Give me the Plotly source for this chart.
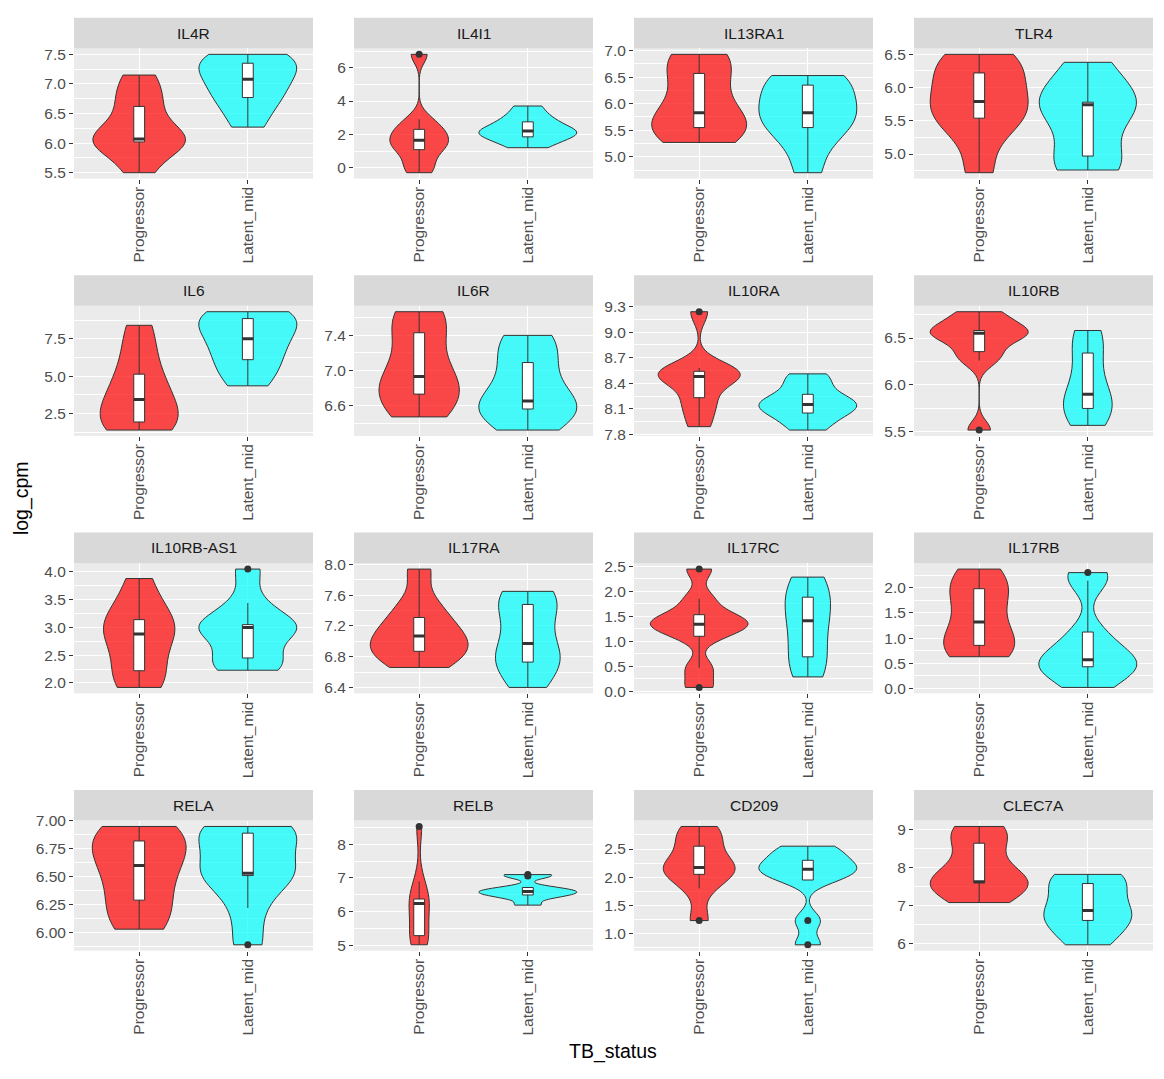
import numpy as np
import plotly.graph_objects as go

# ---------------- data ----------------
groups = ["Progressor", "Latent_mid"]
genes = ["IL4R", "IL4I1", "IL13RA1", "TLR4",
         "IL6", "IL6R", "IL10RA", "IL10RB",
         "IL10RB-AS1", "IL17RA", "IL17RC", "IL17RB",
         "RELA", "RELB", "CD209", "CLEC7A"]

il4r_progressor = [5.50, 5.92, 6.02, 6.04, 6.07, 6.30, 6.62, 6.85, 7.15]
il4r_latent = [6.27, 6.60, 6.77, 6.95, 7.08, 7.25, 7.35, 7.45, 7.50]
il4i1_progressor = [-0.30, 0.30, 1.08, 1.30, 1.65, 2.05, 2.30, 2.90, 6.80]
il4i1_latent = [1.20, 1.65, 1.85, 2.12, 2.20, 2.30, 2.75, 3.05, 3.70]
il13ra1_progressor = [5.27, 5.45, 5.55, 5.65, 5.83, 6.20, 6.57, 6.85, 6.93]
il13ra1_latent = [4.70, 5.30, 5.55, 5.75, 5.83, 6.00, 6.35, 6.45, 6.53]
tlr4_progressor = [4.72, 5.30, 5.54, 5.65, 5.79, 6.00, 6.22, 6.40, 6.50]
tlr4_latent = [4.76, 4.85, 4.97, 5.50, 5.74, 5.76, 5.78, 6.10, 6.38]
il6_progressor = [1.39, 1.70, 1.93, 2.50, 3.44, 4.30, 5.13, 6.80, 8.40]
il6_latent = [4.35, 5.40, 6.10, 7.00, 7.50, 8.30, 8.85, 9.10, 9.31]
il6r_progressor = [6.47, 6.60, 6.73, 6.80, 6.93, 7.10, 7.43, 7.60, 7.67]
il6r_latent = [6.32, 6.50, 6.56, 6.60, 6.65, 6.90, 7.09, 7.30, 7.40]
il10ra_progressor = [7.89, 8.10, 8.23, 8.45, 8.48, 8.50, 8.54, 8.58, 9.24]
il10ra_latent = [7.85, 7.98, 8.05, 8.12, 8.15, 8.20, 8.27, 8.40, 8.51]
il10rb_progressor = [5.52, 6.26, 6.355, 6.50, 6.55, 6.57, 6.58, 6.70, 6.78]
il10rb_latent = [5.57, 5.70, 5.75, 5.82, 5.90, 6.10, 6.34, 6.50, 6.58]
il10rb_as1_progressor = [1.92, 2.10, 2.22, 2.75, 2.88, 3.00, 3.14, 3.40, 3.88]
il10rb_as1_latent = [2.23, 2.35, 2.45, 2.90, 3.00, 3.03, 3.05, 3.44, 4.05]
il17ra_progressor = [6.66, 6.80, 6.87, 6.95, 7.07, 7.15, 7.31, 7.50, 7.94]
il17ra_latent = [6.40, 6.65, 6.73, 6.85, 6.97, 7.30, 7.48, 7.60, 7.65]
il17rc_progressor = [0.08, 0.47, 1.10, 1.28, 1.34, 1.40, 1.53, 1.85, 2.44]
il17rc_latent = [0.29, 0.50, 0.69, 1.10, 1.41, 1.60, 1.88, 2.10, 2.28]
il17rb_progressor = [0.63, 0.75, 0.855, 1.00, 1.32, 1.70, 1.98, 2.10, 2.37]
il17rb_latent = [0.02, 0.30, 0.43, 0.50, 0.57, 0.80, 1.12, 2.14, 2.30]
rela_progressor = [6.03, 6.15, 6.29, 6.48, 6.60, 6.72, 6.82, 6.90, 6.95]
rela_latent = [5.89, 6.22, 6.51, 6.52, 6.53, 6.75, 6.89, 6.93, 6.95]
relb_progressor = [5.03, 5.15, 5.30, 5.70, 6.25, 6.30, 6.38, 6.90, 8.52]
relb_latent = [6.20, 6.42, 6.50, 6.56, 6.60, 6.65, 6.72, 7.06, 7.10]
cd209_progressor = [1.23, 1.80, 2.05, 2.12, 2.17, 2.30, 2.55, 2.75, 2.90]
cd209_latent = [0.80, 1.23, 1.95, 2.05, 2.14, 2.20, 2.30, 2.45, 2.55]
clec7a_progressor = [7.08, 7.40, 7.60, 7.62, 7.63, 8.00, 8.64, 8.90, 9.08]
clec7a_latent = [5.97, 6.30, 6.61, 6.75, 6.87, 7.20, 7.58, 7.75, 7.82]

yticks_il4r = [5.5, 6.0, 6.5, 7.0, 7.5]
ylabels_il4r = ["5.5", "6.0", "6.5", "7.0", "7.5"]
yticks_il4i1 = [0, 2, 4, 6]
ylabels_il4i1 = ["0", "2", "4", "6"]
yticks_il13ra1 = [5.0, 5.5, 6.0, 6.5, 7.0]
ylabels_il13ra1 = ["5.0", "5.5", "6.0", "6.5", "7.0"]
yticks_tlr4 = [5.0, 5.5, 6.0, 6.5]
ylabels_tlr4 = ["5.0", "5.5", "6.0", "6.5"]
yticks_il6 = [2.5, 5.0, 7.5]
ylabels_il6 = ["2.5", "5.0", "7.5"]
yticks_il6r = [6.6, 7.0, 7.4]
ylabels_il6r = ["6.6", "7.0", "7.4"]
yticks_il10ra = [7.8, 8.1, 8.4, 8.7, 9.0, 9.3]
ylabels_il10ra = ["7.8", "8.1", "8.4", "8.7", "9.0", "9.3"]
yticks_il10rb = [5.5, 6.0, 6.5]
ylabels_il10rb = ["5.5", "6.0", "6.5"]
yticks_il10rb_as1 = [2.0, 2.5, 3.0, 3.5, 4.0]
ylabels_il10rb_as1 = ["2.0", "2.5", "3.0", "3.5", "4.0"]
yticks_il17ra = [6.4, 6.8, 7.2, 7.6, 8.0]
ylabels_il17ra = ["6.4", "6.8", "7.2", "7.6", "8.0"]
yticks_il17rc = [0.0, 0.5, 1.0, 1.5, 2.0, 2.5]
ylabels_il17rc = ["0.0", "0.5", "1.0", "1.5", "2.0", "2.5"]
yticks_il17rb = [0.0, 0.5, 1.0, 1.5, 2.0]
ylabels_il17rb = ["0.0", "0.5", "1.0", "1.5", "2.0"]
yticks_rela = [6.00, 6.25, 6.50, 6.75, 7.00]
ylabels_rela = ["6.00", "6.25", "6.50", "6.75", "7.00"]
yticks_relb = [5, 6, 7, 8]
ylabels_relb = ["5", "6", "7", "8"]
yticks_cd209 = [1.0, 1.5, 2.0, 2.5]
ylabels_cd209 = ["1.0", "1.5", "2.0", "2.5"]
yticks_clec7a = [6, 7, 8, 9]
ylabels_clec7a = ["6", "7", "8", "9"]

panels = [
    (il4r_progressor, il4r_latent, yticks_il4r, ylabels_il4r),
    (il4i1_progressor, il4i1_latent, yticks_il4i1, ylabels_il4i1),
    (il13ra1_progressor, il13ra1_latent, yticks_il13ra1, ylabels_il13ra1),
    (tlr4_progressor, tlr4_latent, yticks_tlr4, ylabels_tlr4),
    (il6_progressor, il6_latent, yticks_il6, ylabels_il6),
    (il6r_progressor, il6r_latent, yticks_il6r, ylabels_il6r),
    (il10ra_progressor, il10ra_latent, yticks_il10ra, ylabels_il10ra),
    (il10rb_progressor, il10rb_latent, yticks_il10rb, ylabels_il10rb),
    (il10rb_as1_progressor, il10rb_as1_latent, yticks_il10rb_as1, ylabels_il10rb_as1),
    (il17ra_progressor, il17ra_latent, yticks_il17ra, ylabels_il17ra),
    (il17rc_progressor, il17rc_latent, yticks_il17rc, ylabels_il17rc),
    (il17rb_progressor, il17rb_latent, yticks_il17rb, ylabels_il17rb),
    (rela_progressor, rela_latent, yticks_rela, ylabels_rela),
    (relb_progressor, relb_latent, yticks_relb, ylabels_relb),
    (cd209_progressor, cd209_latent, yticks_cd209, ylabels_cd209),
    (clec7a_progressor, clec7a_latent, yticks_clec7a, ylabels_clec7a),
]

# ---------------- styling / layout ----------------
W, H = 1164, 1079
FONT = "Liberation Sans, Arial, sans-serif"
TICK_SIZE = 15.5
TITLE_SIZE = 19.5
fills = ["rgba(255,0,0,0.7)", "rgba(0,255,255,0.7)"]
DARK = "#333333"
col_x0 = [74, 354, 634, 914]
panel_w = 239
row_top = [41, 302, 563, 824]
panel_h = 132
strip_h = 31
VIOLIN_W = 0.9
BOX_W = 0.1


def px_x(px):
    return px / W


def px_y(py):
    return 1 - py / H


def nrd0(v):
    """R's bw.nrd0 (the bandwidth ggplot2 uses)."""
    v = np.asarray(v, dtype=float)
    n = len(v)
    sd = v.std(ddof=1)
    q75, q25 = np.percentile(v, [75, 25])
    lo = min(sd, (q75 - q25) / 1.34)
    if lo <= 0:
        lo = sd if sd > 0 else 1.0
    return 0.9 * lo * n ** -0.2


def kde_peak(v, bw):
    """Maximum of the gaussian KDE over the (trimmed) data range."""
    v = np.asarray(v, dtype=float)
    grid = np.linspace(v.min(), v.max(), 512)
    z = (grid[:, None] - v[None, :]) / bw
    dens = np.exp(-0.5 * z ** 2).sum(axis=1) / (len(v) * bw * np.sqrt(2 * np.pi))
    return dens.max()


fig = go.Figure()
shapes = []
annotations = []
layout_axes = {}

for idx, (gene, (prog, lat, yt, yl)) in enumerate(zip(genes, panels)):
    r, c = divmod(idx, 4)
    n = idx + 1
    xa = "x" if n == 1 else f"x{n}"
    ya = "y" if n == 1 else f"y{n}"
    xkey = "xaxis" if n == 1 else f"xaxis{n}"
    ykey = "yaxis" if n == 1 else f"yaxis{n}"

    x0 = col_x0[c]
    x1 = x0 + panel_w
    top = row_top[r]
    bot = top + panel_h

    # ggplot2 scale = "area": widest violin in the panel gets the full width
    bws = [nrd0(v) for v in (prog, lat)]
    peaks = [kde_peak(v, b) for v, b in zip((prog, lat), bws)]
    pmax = max(peaks)

    for gi, vals in enumerate([prog, lat]):
        vw = VIOLIN_W * peaks[gi] / pmax
        fig.add_trace(go.Violin(
            x=[gi] * len(vals), y=vals, xaxis=xa, yaxis=ya,
            fillcolor=fills[gi], line=dict(color=DARK, width=1),
            spanmode="hard", bandwidth=bws[gi],
            scalegroup=f"panel{n}_{gi}", scalemode="width",
            width=vw, points="outliers", pointpos=0, jitter=0,
            marker=dict(color=DARK, size=7, line=dict(width=0)),
            box=dict(visible=True, width=min(1.0, BOX_W / vw), fillcolor="white",
                     line=dict(color=DARK, width=1)),
            quartilemethod="inclusive",
            meanline=dict(visible=False), showlegend=False, hoverinfo="skip",
        ))
    for gi, vals in enumerate([prog, lat]):
        med = float(np.percentile(vals, 50))
        fig.add_trace(go.Scatter(
            x=[gi - BOX_W / 2, gi + BOX_W / 2], y=[med, med], xaxis=xa, yaxis=ya,
            mode="lines", line=dict(color=DARK, width=3), showlegend=False,
            hoverinfo="skip",
        ))

    allv = np.array(prog + lat, dtype=float)
    lo, hi = allv.min(), allv.max()
    pad = 0.05 * (hi - lo)
    step = yt[1] - yt[0]
    minor_vals = [yt[0] - step / 2] + [t + step / 2 for t in yt]

    layout_axes[xkey] = dict(
        domain=[px_x(x0), px_x(x1)], anchor=ya, type="linear",
        range=[-0.6, 1.6], tickmode="array", tickvals=[0, 1], ticktext=groups,
        tickangle=-90, ticks="outside", ticklen=4, tickwidth=1, tickcolor=DARK,
        ticklabelstandoff=-3,
        tickfont=dict(family=FONT, size=TICK_SIZE, color="#4D4D4D"),
        showgrid=True, gridcolor="white", gridwidth=1.1,
        zeroline=False, showline=False, fixedrange=True,
    )
    layout_axes[ykey] = dict(
        domain=[px_y(bot), px_y(top)], anchor=xa,
        range=[lo - pad, hi + pad], tickmode="array", tickvals=yt, ticktext=yl,
        ticks="outside", ticklen=4, tickwidth=1, tickcolor=DARK,
        tickfont=dict(family=FONT, size=TICK_SIZE, color="#4D4D4D"),
        showgrid=True, gridcolor="white", gridwidth=1.1,
        minor=dict(tickmode="array", tickvals=minor_vals, showgrid=True,
                   gridcolor="white", gridwidth=0.55, ticks=""),
        zeroline=False, showline=False, fixedrange=True,
    )

    shapes.append(dict(type="rect", xref="paper", yref="paper",
                       x0=px_x(x0), x1=px_x(x1), y0=px_y(top), y1=px_y(top - strip_h),
                       fillcolor="#D9D9D9", line=dict(width=0), layer="below"))
    annotations.append(dict(text=gene, xref="paper", yref="paper",
                            x=px_x((x0 + x1) / 2), y=px_y(top - strip_h / 2),
                            xanchor="center", yanchor="middle", showarrow=False,
                            font=dict(family=FONT, size=TICK_SIZE, color="#1A1A1A")))

annotations.append(dict(text="log_cpm", xref="paper", yref="paper",
                        x=px_x(21), y=px_y(497), textangle=-90,
                        xanchor="center", yanchor="middle", showarrow=False,
                        font=dict(family=FONT, size=TITLE_SIZE, color="black")))
annotations.append(dict(text="TB_status", xref="paper", yref="paper",
                        x=px_x(613), y=px_y(1058),
                        xanchor="center", yanchor="middle", showarrow=False,
                        font=dict(family=FONT, size=TITLE_SIZE, color="black")))

fig.update_layout(
    width=W, height=H, margin=dict(l=0, r=0, t=0, b=0),
    paper_bgcolor="white", plot_bgcolor="#EBEBEB",
    font=dict(family=FONT), showlegend=False,
    shapes=shapes, annotations=annotations, violinmode="overlay",
    **layout_axes,
)

fig.write_html("out.html")
